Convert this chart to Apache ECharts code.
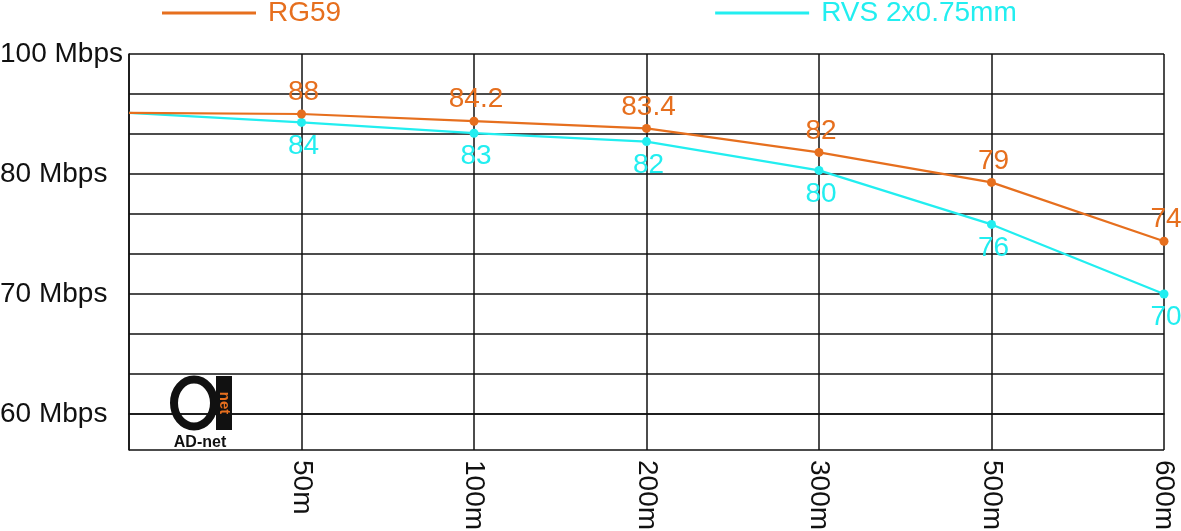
<!DOCTYPE html>
<html><head><meta charset="utf-8">
<script src="https://cdn.jsdelivr.net/npm/echarts@6/dist/echarts.min.js"></script>
<style>html,body{margin:0;padding:0;background:#fff;overflow:hidden}#c{width:1181px;height:531px}</style>
</head><body><div id="c"></div>
<script>
const categories = ['', '50m', '100m', '200m', '300m', '500m', '600m'];
const seriesNames = ['RG59', 'RVS 2x0.75mm'];
const rg59Values = [85.1, 85.0, 84.4, 83.8, 81.8, 79.3, 74.4];
const rvsValues = [85.1, 84.3, 83.4, 82.7, 80.3, 75.8, 70.0];
const rg59Labels = ['', '88', '84.2', '83.4', '82', '79', '74'];
const rvsLabels = ['', '84', '83', '82', '80', '76', '70'];
const yTickValues = [60, 70, 80, 90];
const yTickLabels = ['60 Mbps', '70 Mbps', '80 Mbps', '100 Mbps'];

const ORANGE = '#E66F1E';
const CYAN = '#22EEF0';
const FONT = 'Liberation Sans, Arial, sans-serif';

const yLabelMap = {};
yTickValues.forEach((v, i) => { yLabelMap[v] = yTickLabels[i]; });

function buildData(values) {
  return values.map((v, i) => i === 0 ? { value: v, symbol: 'none' } : v);
}

const chart = echarts.init(document.getElementById('c'));
chart.setOption({
  animation: false,
  backgroundColor: '#fff',
  textStyle: { fontFamily: FONT },
  grid: { left: 129, right: 17, top: 54, bottom: 81, containLabel: false, outerBoundsMode: 'none' },
  legend: {
    top: -1, left: 162, padding: 0, itemGap: 374, itemWidth: 94, itemHeight: 3,
    icon: 'rect',
    data: [
      { name: seriesNames[0], textStyle: { color: ORANGE } },
      { name: seriesNames[1], textStyle: { color: CYAN } }
    ],
    textStyle: { fontSize: 28, fontFamily: FONT, padding: [0, 0, 0, 7] }
  },
  xAxis: {
    type: 'category', data: categories, boundaryGap: false,
    axisLine: { lineStyle: { color: '#111', width: 1.5 } },
    axisTick: { show: false },
    axisLabel: { rotate: -90, margin: 10, fontSize: 28, color: '#111', fontFamily: FONT, interval: 0 },
    splitLine: { show: true, lineStyle: { color: '#111', width: 1.5 } }
  },
  yAxis: [
    {
      type: 'value', min: 57, max: 90,
      axisLine: { show: true, lineStyle: { color: '#111', width: 1.5 } },
      axisTick: { show: false },
      splitLine: { show: false },
      axisLabel: {
        customValues: yTickValues, align: 'left', margin: 129,
        fontSize: 28, color: '#111', fontFamily: FONT,
        formatter: v => yLabelMap[v] || ''
      }
    },
    {
      type: 'value', min: -0.9, max: 9, splitNumber: 10, minInterval: 1, maxInterval: 1,
      position: 'left',
      axisLine: { show: false }, axisTick: { show: false }, axisLabel: { show: false },
      splitLine: { show: true, lineStyle: { color: '#111', width: 1.5 } }
    }
  ],
  series: [
    {
      name: seriesNames[0], type: 'line', data: buildData(rg59Values),
      color: ORANGE, symbol: 'circle', symbolSize: 9,
      lineStyle: { width: 2.2, color: ORANGE }, itemStyle: { color: ORANGE },
      label: {
        show: true, position: 'top', distance: 3, offset: [2, 0], fontSize: 28, color: ORANGE, fontFamily: FONT,
        formatter: p => rg59Labels[p.dataIndex]
      },
      z: 3
    },
    {
      name: seriesNames[1], type: 'line', data: buildData(rvsValues),
      color: CYAN, symbol: 'circle', symbolSize: 9,
      lineStyle: { width: 2.2, color: CYAN }, itemStyle: { color: CYAN },
      label: {
        show: true, position: 'bottom', distance: 5, offset: [2, 0], fontSize: 28, color: CYAN, fontFamily: FONT,
        formatter: p => rvsLabels[p.dataIndex]
      },
      z: 2
    }
  ],
  graphic: [
    { type: 'ellipse', shape: { cx: 194, cy: 403, rx: 20, ry: 23.5 }, style: { fill: 'none', stroke: '#111', lineWidth: 8 }, z: 10 },
    { type: 'rect', shape: { x: 216, y: 376, width: 16, height: 54 }, style: { fill: '#111' }, z: 10 },
    { type: 'text', x: 224, y: 403, rotation: -Math.PI / 2,
      style: { text: 'net', fill: ORANGE, font: 'bold 15px Liberation Sans', align: 'center', verticalAlign: 'middle' }, z: 11 },
    { type: 'text', x: 200, y: 443,
      style: { text: 'AD-net', fill: '#111', font: 'bold 16px Liberation Sans', align: 'center', verticalAlign: 'middle' }, z: 11 }
  ]
});
</script>
</body></html>
